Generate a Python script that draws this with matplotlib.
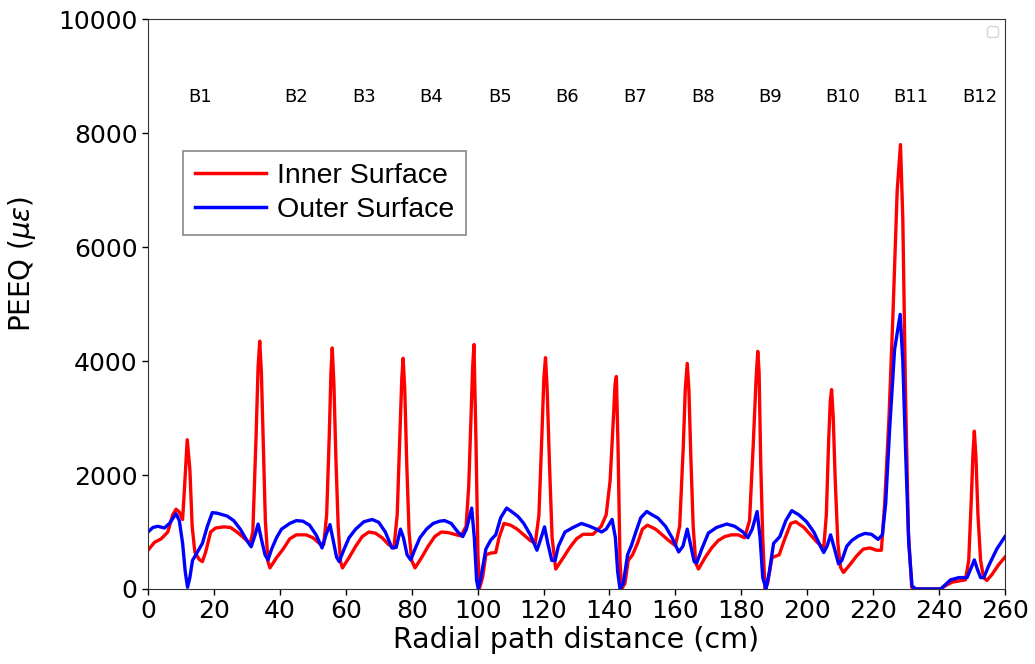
import matplotlib
matplotlib.use("Agg")
import matplotlib.pyplot as plt

# Inner surface (red)
inner_x = [0, 2, 4, 6, 7.5, 8.5, 9.5, 10.5, 11.1, 11.9, 12.7, 13.4, 14.2, 15.5, 16.5, 17.5, 19, 20.5, 23, 25,
           27, 29, 31, 31.8, 32.8, 33.4, 33.9, 34.4, 35.0, 35.6, 36.4, 37, 39, 41, 43, 45, 48, 50, 52, 53.3, 54.2,
           55.0, 55.5, 55.9, 56.4, 57.0, 57.7, 58.4, 59, 61, 63, 65, 67, 69, 71, 73, 74.6, 75.6, 76.4, 77.0, 77.4, 77.9, 78.5, 79.2, 80.0,
           81, 83, 85, 87, 89, 91, 93, 95, 96.5, 97.3, 98.0, 98.5, 98.9, 99.5, 100.1, 100.6, 101.5, 102.5, 104, 105.5, 106.5,
           108, 110, 112, 114, 116, 117.5, 118.6, 119.5, 120.1, 120.6, 121.1, 121.8, 122.6, 123.7, 126, 128, 130, 132, 135, 137.5, 139,
           140.2, 141.2, 141.7, 142.1, 142.6, 143.2, 143.7, 144.7, 145.7, 147, 148.5, 150, 151.5, 154, 156, 158, 160, 161.3, 162.4, 163.0, 163.6, 164.1, 164.7,
           165.4, 166.2, 167, 169, 171, 173, 175, 177, 179, 181, 182.5, 183.6, 184.5, 185.0, 185.4, 185.9, 186.5, 187.2, 188, 189.3, 191.5,
           193, 195, 196.5, 199, 201, 203, 205, 205.8, 206.5, 207.0, 207.4, 207.9, 208.5, 209.3, 210.1, 211, 213, 215, 217, 219, 221, 222.5,
           223.5, 224.8, 226, 227.3, 228.3, 229, 229.8, 230.7, 231.7, 233, 240.5, 242, 244, 246, 248, 249.0, 249.8, 250.3, 250.7, 251.2, 251.8,
           252.6, 253.5, 254.5, 256, 258, 260]
inner_y = [680, 820, 880, 1000, 1300, 1400, 1350, 1220, 1800, 2620, 2100, 1100, 650, 520, 480, 650, 1000, 1070, 1090, 1080,
           1000, 900, 800, 1000, 2700, 3900, 4350, 3800, 2500, 1200, 480, 370, 550, 700, 880, 950, 950, 900, 800, 780, 1300,
           2700, 3800, 4230, 3600, 2300, 1100, 480, 370, 550, 750, 920, 1000, 980, 900, 780, 720, 1300, 2700, 3700, 4050, 3500, 2200, 1000, 500,
           370, 550, 750, 920, 1000, 990, 960, 930, 1100, 1800, 3000, 3900, 4290, 2600, 600, 20, 200, 600, 630, 640, 900,
           1150, 1120, 1050, 950, 850, 800, 1300, 2700, 3700, 4060, 3500, 2200, 900, 350, 550, 730, 880, 960, 960, 1100, 1300,
           1900, 3000, 3600, 3730, 2500, 500, 0, 100, 500, 600, 800, 1050, 1120, 1050, 950, 850, 760, 1100, 2500, 3500, 3960, 3500, 2300,
           1100, 450, 350, 550, 720, 850, 920, 950, 950, 900, 1200, 2500, 3700, 4170, 3800, 2200, 900, 0, 100, 550, 600,
           850, 1150, 1180, 1080, 950, 820, 720, 1300, 2600, 3300, 3500, 3000, 1900, 800, 380, 290, 430, 580, 700, 720, 680, 680,
           1500, 3000, 4800, 7000, 7800, 6500, 3500, 1000, 30, 0, 0, 60, 120, 140, 160, 500, 1600, 2400, 2770, 2300, 1300,
           500, 200, 150, 250, 420, 560]

# Outer surface (blue)
outer_x = [0, 1.5, 3, 5, 6.5, 8.5, 9.5, 10.5, 11.3, 12, 12.7, 13.5, 15, 16.5, 18, 19.5, 21, 24, 26, 28,
           30, 31.3, 32.5, 33.4, 34.3, 35.5, 36.4, 37.5, 39, 40.5, 43, 45, 47, 49, 51, 52.8, 54, 55.2, 56.2, 57.2,
           58, 59.5, 61, 63, 65.5, 68, 70, 72, 74, 75.3, 76.6, 77.5, 78.6, 79.7, 81, 82.5, 84.5, 86.5, 88.5, 90,
           92, 94, 95.5, 96.6, 98.2, 99, 99.7, 100.2, 101, 102.5, 104, 105.5, 107, 108.8, 110.5, 112.3, 114, 116, 118, 119,
           120.3, 121.3, 122.5, 123.5, 124.5, 126.5, 129, 131.5, 134, 136, 137.6, 139, 140.8, 141.8, 142.5, 143.2, 144.2, 145.5, 146.7, 148,
           149.5, 151.3, 153, 154.7, 157, 159, 161, 162.3, 163.6, 164.7, 165.7, 166.5, 168, 170, 172.5, 175.6, 178, 180.5, 182, 183.3,
           184.8, 185.7, 186.5, 187.5, 188.5, 189.8, 191.7, 193.5, 195.3, 197.5, 199.8, 202, 204, 205, 206, 207.1, 208.3, 209.5, 210.5, 212,
           213.5, 215.5, 217.5, 219.5, 221.5, 222.8, 223.8, 225, 226.5, 228.2, 229, 229.8, 230.8, 231.8, 233, 240.5, 242, 243.5, 246, 248.5,
           249.8, 250.7, 251.6, 252.6, 253.6, 255, 257.5, 260]
outer_y = [1000, 1080, 1100, 1070, 1150, 1320, 1200, 800, 300, 30, 200, 500, 650, 800, 1100, 1340, 1330, 1280, 1200, 1050,
           850, 740, 950, 1140, 900, 600, 510, 700, 900, 1050, 1150, 1200, 1190, 1120, 950, 720, 950, 1130, 850, 560,
           480, 700, 900, 1050, 1180, 1220, 1170, 1000, 720, 730, 1050, 900, 600, 510, 700, 900, 1050, 1150, 1190, 1200,
           1150, 1000, 920, 1050, 1420, 900, 150, 0, 200, 700, 860, 950, 1250, 1420, 1350, 1270, 1150, 950, 680, 850,
           1090, 800, 500, 500, 750, 1000, 1080, 1150, 1100, 1050, 1000, 1050, 1220, 900, 300, 0, 100, 600, 770, 1000,
           1250, 1360, 1300, 1245, 1100, 900, 650, 750, 1050, 750, 480, 460, 700, 980, 1080, 1140, 1100, 1000, 900, 1050,
           1360, 900, 200, 0, 300, 800, 920, 1200, 1375, 1300, 1180, 1000, 750, 640, 750, 950, 700, 440, 500, 750,
           850, 930, 975, 960, 870, 950, 1500, 2800, 4200, 4820, 4000, 2500, 800, 50, 0, 0, 80, 160, 200, 200,
           380, 510, 350, 200, 200, 400, 700, 920]

beam_labels = ["B1", "B2", "B3", "B4", "B5", "B6", "B7", "B8", "B9", "B10", "B11", "B12"]
beam_label_x = [15.8, 45, 65.5, 86, 106.8, 127, 147.8, 168.4, 188.7, 210.9, 231.5, 252.4]
beam_label_y = 8630

fig = plt.figure(figsize=(10.35, 6.64), dpi=100)
ax = fig.add_axes([0.143, 0.113, 0.828, 0.858])

l1, = ax.plot(inner_x, inner_y, color="red", lw=2.4, label="Inner Surface")
l2, = ax.plot(outer_x, outer_y, color="blue", lw=2.4, label="Outer Surface")

ax.set_xlim(0, 260)
ax.set_ylim(0, 10000)
ax.set_xticks(range(0, 261, 20))
ax.set_yticks(range(0, 10001, 2000))
ax.tick_params(labelsize=18, length=4, width=1, direction="out")
for s in ax.spines.values():
    s.set_color("#333333")

for lab, xx in zip(beam_labels, beam_label_x):
    ax.text(xx, beam_label_y, lab, ha="center", va="center", fontsize=13)

ax.set_xlabel("Radial path distance (cm)", fontsize=20.5, labelpad=2)
ax.set_ylabel(r"PEEQ $(\mu\epsilon)$", fontsize=20)
ax.yaxis.set_label_coords(-0.128, 0.57)

# empty legend box top right
empty = ax.legend(handles=[], loc="upper right")
ax.add_artist(empty)

leg = ax.legend(handles=[l1, l2], loc="upper left", bbox_to_anchor=(0.041, 0.768),
                borderaxespad=0, fancybox=False, framealpha=1, edgecolor="#888888",
                prop={"family": "Liberation Sans", "size": 20.5}, handlelength=2.5,
                borderpad=0.4, labelspacing=0.3, handletextpad=0.4)
leg.get_frame().set_linewidth(1.2)
for ln in leg.get_lines():
    ln.set_linewidth(2.5)

fig.savefig("out.png", dpi=100)
